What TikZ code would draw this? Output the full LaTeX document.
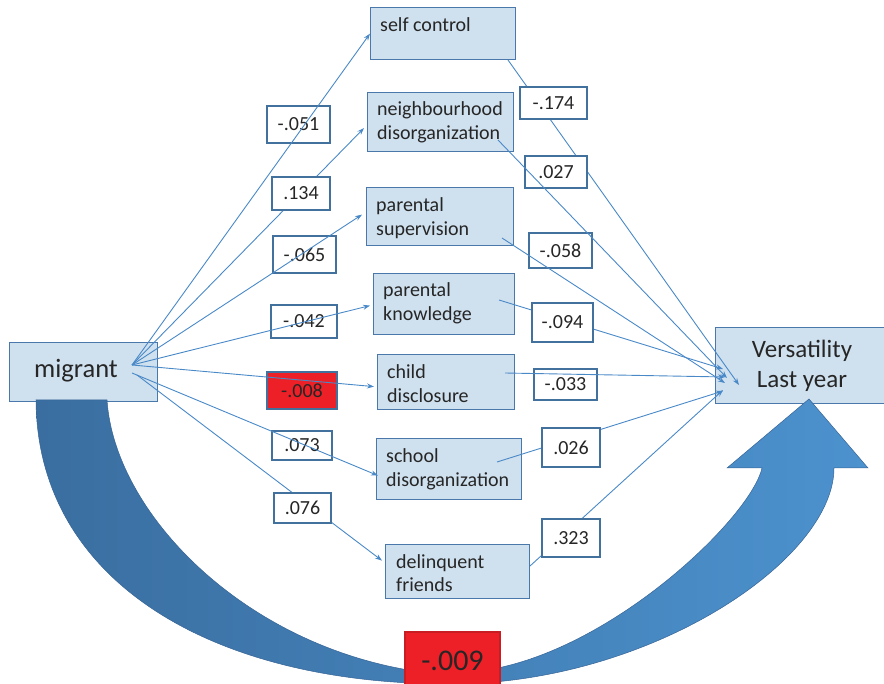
\documentclass[tikz,border=0pt]{standalone}
\usepackage{fontspec}
\setmainfont{Carlito}
\usetikzlibrary{arrows.meta,calc}
\definecolor{boxfill}{RGB}{207,224,238}
\definecolor{boxline}{RGB}{74,120,170}
\definecolor{labline}{RGB}{65,113,156}
\definecolor{arrowblue}{RGB}{74,137,200}
\definecolor{txt}{RGB}{38,38,38}
\definecolor{redfill}{RGB}{236,32,38}
\definecolor{redline}{RGB}{200,30,35}
\definecolor{arrdark}{RGB}{58,110,160}
\definecolor{arrlight}{RGB}{76,146,206}
\definecolor{arredge}{RGB}{55,100,150}
\newcommand{\twolines}[2]{\begin{tabular}[t]{@{}l@{}}#1\\#2\end{tabular}}
\tikzset{
  medbox/.style={draw=boxline, fill=boxfill, line width=1.2pt, anchor=north west, inner sep=0pt},
  medtxt/.style={anchor=base west, inner sep=0pt, text=txt, font=\fontsize{20}{23.5}\selectfont},
  lab/.style={draw=labline, fill=white, line width=1.1pt, inner sep=0pt, text=txt, font=\fontsize{20}{24}\selectfont},
  redlab/.style={lab, fill=redfill},
  conn/.style={draw=arrowblue, line width=0.9pt, -{Stealth[length=7pt,width=5pt]}},
}
\begin{document}
\begin{tikzpicture}[x=1pt,y=-1pt]
\useasboundingbox (0,0) rectangle (884,684);

% main boxes
\node[medbox, minimum width=148pt, minimum height=59pt] (mig) at (9,342) {};
\node[anchor=base, inner sep=0pt, text=txt, font=\fontsize{26.5}{30}\selectfont] (migt) at (76,378) {migrant};

\node[medbox, minimum width=180pt, minimum height=76pt] (vly) at (715,327) {};
\node[align=center, inner sep=0pt, text=txt, font=\fontsize{25}{30}\selectfont] (vlyt) at (802,366) {Versatility\\Last year};

\node[medbox, minimum width=145pt, minimum height=52pt] (sc) at (370,7) {};
\node[medtxt] (sct) at (380,32) {self control};
\node[medbox, minimum width=146pt, minimum height=59pt] (nb) at (367,92) {};
\node[medtxt] (nbt) at (377,116) {\twolines{neighbourhood}{disorganization}};
\node[medbox, minimum width=147pt, minimum height=58pt] (ps) at (366,187) {};
\node[medtxt] (pst) at (376,212) {\twolines{parental}{supervision}};
\node[medbox, minimum width=141pt, minimum height=61pt] (pk) at (373,273) {};
\node[medtxt] (pkt) at (383,297) {\twolines{parental}{knowledge}};
\node[medbox, minimum width=137pt, minimum height=55pt] (cd) at (377,354) {};
\node[medtxt] (cdt) at (387,379) {\twolines{child}{disclosure}};
\node[medbox, minimum width=145pt, minimum height=61pt] (sd) at (376,438) {};
\node[medtxt] (sdt) at (386,463) {\twolines{school}{disorganization}};
\node[medbox, minimum width=144pt, minimum height=54pt] (df) at (385,544) {};
\node[medtxt] (dft) at (396,568) {\twolines{delinquent}{friends}};

% connector end points
\coordinate (mo) at (132,365);
\coordinate (mo2) at (132,373);
\coordinate (mo3) at (137,375);
\coordinate (sco) at (508,60);
\coordinate (nbo) at (498,140);
\coordinate (pso) at (502,238);
\coordinate (pko) at (499,300);
\coordinate (cdo) at (505,373);
\coordinate (sdo) at (497,462);
\coordinate (dfo) at (530,566);
\coordinate (v1) at (739,385);
\coordinate (v2) at (727,378);
\coordinate (v3) at (725,383);
\coordinate (v4) at (723,369);
\coordinate (v5) at (725,377);
\coordinate (v6) at (723,391);
\coordinate (v7) at (723,390);

% connectors hidden under their labels
\draw[conn] (mo) -- ($(nb.west)+(-3,6)$);
\draw[conn] (mo3) -- ($(df.west)+(-3,-11)$);
\draw[conn] (sco) -- (v1);
\draw[conn] (pko) -- (v4);
\draw[conn] (sdo) -- (v6);
\draw[conn] (dfo) -- (v7);

% coefficient labels
\node[lab, minimum width=63pt, minimum height=37pt] (l1) at (298.5,124.5) {-.051};
\node[lab, minimum width=58pt, minimum height=33pt] (l2) at (301,193.5) {.134};
\node[lab, minimum width=63pt, minimum height=37pt] (l3) at (304.5,254.5) {-.065};
\node[lab, minimum width=66pt, minimum height=33pt] (l4) at (304,321.5) {-.042};
\node[redlab, minimum width=70pt, minimum height=37pt] (l5) at (302,390.5) {-.008};
\node[lab, minimum width=60pt, minimum height=29pt] (l6) at (302,445.5) {.073};
\node[lab, minimum width=57pt, minimum height=30pt] (l7) at (302.5,508) {.076};
\node[lab, minimum width=67pt, minimum height=32pt] (r1) at (553.5,103) {-.174};
\node[lab, minimum width=62pt, minimum height=32pt] (r2) at (556,172) {.027};
\node[lab, minimum width=63pt, minimum height=35pt] (r3) at (560.5,250.5) {-.058};
\node[lab, minimum width=61pt, minimum height=39pt] (r4) at (562.5,322.5) {-.094};
\node[lab, minimum width=63pt, minimum height=31pt] (r5) at (565.5,384.5) {-.033};
\node[lab, minimum width=58pt, minimum height=39pt] (r6) at (571,447.5) {.026};
\node[lab, minimum width=58pt, minimum height=38pt] (r7) at (571,538) {.323};

% connectors drawn over labels
\draw[conn] (mo) -- (sc.west);
\draw[conn] (mo) -- ($(ps.west)+(-4,-2)$);
\draw[conn] (mo) -- ($(pk.west)+(-3,1.5)$);
\draw[conn] (mo) -- ($(cd.west)+(-3,4.5)$);
\draw[conn] (mo2) -- ($(sd.west)+(2,6.5)$);
\draw[conn] (nbo) -- (v2);
\draw[conn] (pso) -- (v3);
\draw[conn] (cdo) -- (v5);

% big curved arrow
\path[left color=arrdark, right color=arrlight, draw=arredge, line width=0.5pt]
  (36,400) .. controls (37,580) and (210,684) .. (450,684)
  .. controls (650,684) and (834,560) .. (834,468)
  -- (868,468) -- (809,399) -- (727,468) -- (762,468)
  .. controls (750,520) and (600,662) .. (470,672)
  -- (450,675)
  .. controls (260,662) and (115,520) .. (107,400) -- cycle;

\node[redlab, draw=redline, minimum width=95pt, minimum height=58pt, font=\fontsize{30}{36}\selectfont] (l0) at (452.5,661) {-.009};
\end{tikzpicture}
\end{document}
